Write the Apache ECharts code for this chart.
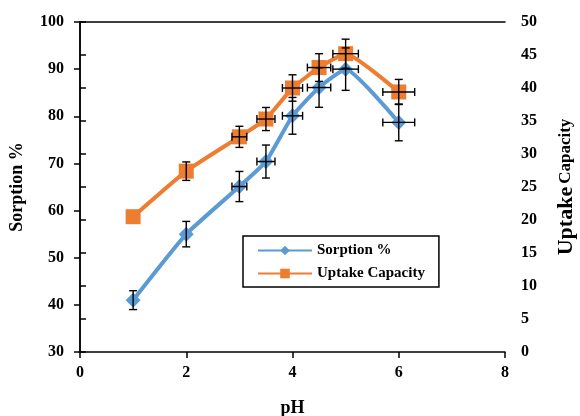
<!DOCTYPE html>
<html>
<head>
<meta charset="utf-8">
<script src="https://cdn.jsdelivr.net/npm/echarts@6/dist/echarts.min.js"></script>
<style>
  html, body { margin: 0; padding: 0; background: #fff; }
  #chart { width: 580px; height: 416px; }
</style>
</head>
<body>
<div id="chart"></div>
<script>
// pH values
var phValues = [1, 2, 3, 3.5, 4, 4.5, 5, 6];
// sorption % (left axis)
var sorption = [41.0, 55.0, 65.1, 70.4, 80.1, 86.1, 90.0, 78.7];
var sorptionErr = [2.0, 2.7, 3.2, 3.5, 3.9, 4.2, 4.5, 3.9];
// uptake capacity (right axis)
var uptake = [20.5, 27.4, 32.6, 35.3, 40.0, 43.1, 45.2, 39.4];
var uptakeErr = [0, 1.4, 1.6, 1.75, 2.0, 2.1, 2.2, 1.9];
// horizontal error on pH
var phErr = [0, 0, 0.14, 0.17, 0.19, 0.22, 0.24, 0.3];

var leftTicks = [30, 100, 10];
var rightTicks = [0, 50, 5];

var FONT = 'Liberation Serif';
var chart = echarts.init(document.getElementById('chart'));

function pairs(ys) {
  return phValues.map(function (x, i) { return [x, ys[i]]; });
}
function errData(ys, errs) {
  return phValues.map(function (x, i) { return [x, ys[i], phErr[i], errs[i]]; });
}

// draws error bars (x and y) with caps
function renderErr(params, api) {
  var x = api.value(0), y = api.value(1), ex = api.value(2), ey = api.value(3);
  var top = api.coord([x, y + ey]);
  var bot = api.coord([x, y - ey]);
  var lft = api.coord([x - ex, y]);
  var rgt = api.coord([x + ex, y]);
  var cap = 4;
  var st = { stroke: '#000', lineWidth: 1.4 };
  var seg = function (x1, y1, x2, y2) {
    return { type: 'line', shape: { x1: x1, y1: y1, x2: x2, y2: y2 }, style: st };
  };
  var kids = [];
  if (ey > 0) {
    kids.push(seg(top[0], top[1], bot[0], bot[1]),
      seg(top[0] - cap, top[1], top[0] + cap, top[1]),
      seg(bot[0] - cap, bot[1], bot[0] + cap, bot[1]));
  }
  if (ex > 0) {
    kids.push(seg(lft[0], lft[1], rgt[0], rgt[1]),
      seg(lft[0], lft[1] - cap, lft[0], lft[1] + cap),
      seg(rgt[0], rgt[1] - cap, rgt[0], rgt[1] + cap));
  }
  return { type: 'group', children: kids };
}

function labelStyle(margin) {
  return { margin: margin, color: '#000', fontFamily: FONT, fontWeight: 'bold', fontSize: 16 };
}
function axisLine() {
  return { show: true, lineStyle: { color: '#000', width: 1.5 } };
}
function axisTick() {
  return { show: true, length: 6, lineStyle: { color: '#000', width: 1.5 } };
}

chart.setOption({
  animation: false,
  grid: {
    left: 80, right: 75, top: 22, bottom: 64,
    outerBoundsMode: 'none'
  },
  legend: {
    left: 243, top: 236,
    orient: 'vertical',
    borderColor: '#000', borderWidth: 1.5,
    padding: [7, 14, 6, 14],
    itemWidth: 54, itemHeight: 12, itemGap: 8,
    textStyle: { color: '#000', fontFamily: FONT, fontWeight: 'bold', fontSize: 15 },
    data: ['Sorption %', 'Uptake Capacity']
  },
  xAxis: [{
    type: 'value', min: 0, max: 8, interval: 2,
    name: 'pH', nameLocation: 'middle', nameGap: 47,
    nameTextStyle: { color: '#000', fontFamily: FONT, fontWeight: 'bold', fontSize: 18 },
    axisLine: axisLine(), axisTick: axisTick(), splitLine: { show: false },
    axisLabel: labelStyle(13)
  }, {
    // top frame line
    type: 'value', position: 'top', min: 0, max: 8, interval: 2,
    axisLine: axisLine(), axisTick: { show: false }, axisLabel: { show: false },
    splitLine: { show: false }
  }],
  yAxis: [{
    type: 'value', min: leftTicks[0], max: leftTicks[1], interval: leftTicks[2],
    name: 'Sorption %', nameLocation: 'middle', nameGap: 54, nameRotate: 90,
    nameTextStyle: { color: '#000', fontFamily: FONT, fontWeight: 'bold', fontSize: 18 },
    axisLine: axisLine(), axisTick: axisTick(), splitLine: { show: false },
    axisLabel: labelStyle(16)
  }, {
    type: 'value', position: 'right', min: rightTicks[0], max: rightTicks[1], interval: rightTicks[2],
    name: '{a|Uptake} {b|Capacity}', nameLocation: 'middle', nameGap: 50, nameRotate: 90,
    nameTextStyle: {
      color: '#000', fontFamily: FONT, fontWeight: 'bold',
      rich: {
        a: { fontFamily: FONT, fontWeight: 'bold', fontSize: 22, color: '#000' },
        b: { fontFamily: FONT, fontWeight: 'bold', fontSize: 17, color: '#000' }
      }
    },
    axisLine: axisLine(), axisTick: axisTick(), splitLine: { show: false },
    axisLabel: labelStyle(16)
  }],
  series: [{
    name: 'Sorption %', type: 'line', yAxisIndex: 0,
    data: pairs(sorption),
    symbol: 'diamond', symbolSize: 15,
    lineStyle: { color: '#5B9BD5', width: 4 },
    itemStyle: { color: '#5B9BD5' },
    smooth: 0.15,
    z: 2
  }, {
    name: 'Uptake Capacity', type: 'line', yAxisIndex: 1,
    data: pairs(uptake),
    symbol: 'rect', symbolSize: 15,
    lineStyle: { color: '#ED7D31', width: 4 },
    itemStyle: { color: '#ED7D31' },
    smooth: 0.15,
    z: 3
  }, {
    type: 'custom', yAxisIndex: 0,
    renderItem: renderErr,
    encode: { x: 0, y: 1 },
    data: errData(sorption, sorptionErr),
    z: 10, silent: true
  }, {
    type: 'custom', yAxisIndex: 1,
    renderItem: renderErr,
    encode: { x: 0, y: 1 },
    data: errData(uptake, uptakeErr),
    z: 10, silent: true
  }]
});
</script>
</body>
</html>
